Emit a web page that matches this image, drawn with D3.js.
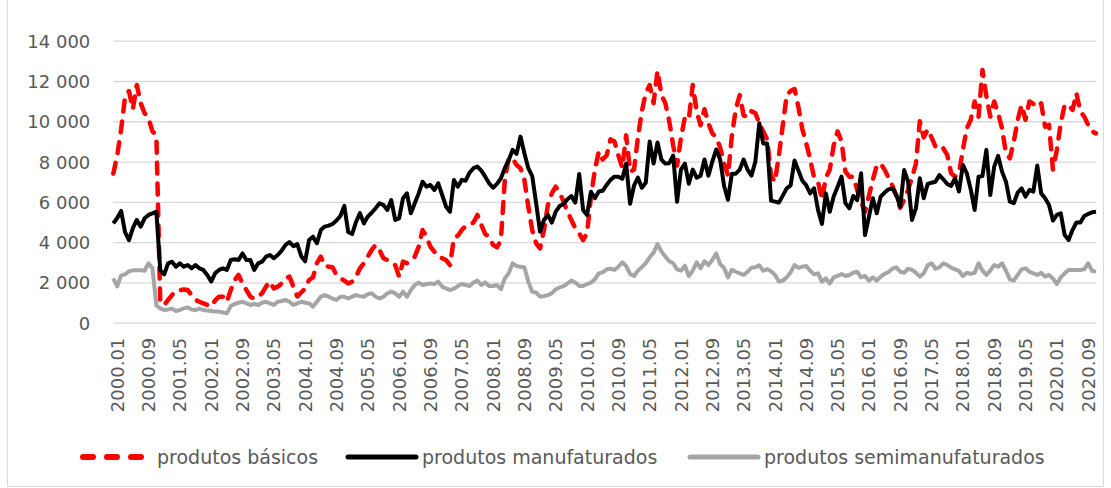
<!DOCTYPE html>
<html>
<head>
<meta charset="utf-8">
<script src="https://cdn.jsdelivr.net/npm/d3@7"></script>
<style>
  body { margin: 0; background: #fff; }
  svg { display: block; font-family: "DejaVu Sans", sans-serif; }
</style>
</head>
<body>
<svg id="chart" width="1111" height="488"></svg>
<script>
// monthly series, 2000.01 .. 2020.12 (one row = one year)
const basicos = [
  7400, 8300, 9600, 11200, 11500, 10600, 11800, 10900, 10400, 10150, 9500, 9300,
  1000, 880, 1130, 1370, 1580, 1620, 1650, 1620, 1370, 1130, 1040, 960,
  880, 800, 1100, 1290, 1290, 1040, 1620, 2120, 2370, 1950, 1620, 1290,
  1200, 1290, 1460, 1790, 2040, 1700, 1790, 1950, 2200, 2290, 1790, 1300,
  1500, 1700, 2120, 2250, 2950, 3280, 2810, 2780, 2750, 2370, 2200, 2090,
  1950, 2040, 2290, 2700, 2950, 3280, 3610, 3860, 3610, 3200, 3110, 2950,
  2860, 2290, 3030, 2950, 3110, 3280, 3770, 4600, 4270, 3770, 3530, 3280,
  3200, 3110, 2860, 4190, 4320, 4600, 4800, 4900, 4970, 5350, 4850, 4400,
  4270, 3860, 3740, 4100, 7090, 8160, 8160, 7830, 7670, 7090, 5760, 4600,
  3940, 3690, 4600, 5840, 6420, 6750, 6460, 6010, 5510, 5100, 4690, 4440,
  4100, 4440, 6260, 7580, 8500, 8100, 8300, 9100, 9000, 8300, 7700, 9300,
  7500, 7600, 9200, 10500, 11400, 11800, 10900, 12500, 11300, 10900, 10000, 8800,
  7800, 9200, 10200, 10100, 11800, 10500, 9800, 10600, 9900, 9400, 9200, 8700,
  7900, 7300, 9300, 10600, 11300, 10300, 10200, 10500, 10400, 9900, 9500, 9100,
  7300, 7000, 8300, 9800, 11300, 11500, 11600, 10700, 9600, 8900, 8100, 7200,
  7000, 6100, 7200, 7600, 8800, 9500, 9000, 7500, 7250, 7250, 6600, 6000,
  5500, 6300, 7100, 7800, 7900, 7600, 7200, 6800, 6300, 5700, 6100, 6600,
  7200, 7900, 10000, 9200, 9600, 9200, 8740, 8580, 8660, 8330, 7420, 7250,
  7420, 8580, 9650, 10070, 10980, 10230, 12550, 11230, 10230, 10980, 10400, 9650,
  8410, 8160, 8990, 10070, 10810, 10070, 10980, 10860, 10700, 10890, 9730, 9820,
  7600, 8580, 9900, 10810, 10810, 10560, 11390, 10480, 10230, 9820, 9490, 9400
];
const manufaturados = [
  4930, 5200, 5550, 4500, 4100, 4700, 5100, 4770, 5180, 5350, 5430, 5510,
  2600, 2400, 2950, 3030, 2780, 2950, 2780, 2860, 2700, 2860, 2700, 2620,
  2370, 2040, 2450, 2620, 2700, 2620, 3110, 3150, 3110, 3440, 3110, 3110,
  2620, 2950, 3030, 3280, 3360, 3200, 3360, 3580, 3860, 4000, 3800, 3900,
  3300, 3050, 4100, 4270, 3940, 4600, 4770, 4820, 4900, 5070, 5300, 5800,
  4500, 4400, 5000, 5440, 4930, 5270, 5460, 5680, 5930, 5840, 5600, 6090,
  5100, 5180, 6180, 6420, 5430, 5930, 6420, 7000, 6750, 6840, 6590, 6920,
  6340, 5760, 5510, 7090, 6750, 7090, 7050, 7450, 7670, 7750, 7550, 7250,
  6920, 6700, 6890, 7170, 7670, 8080, 8580, 8380, 9240, 8410, 7670, 7280,
  5930, 4520, 5100, 5350, 4970, 5510, 5790, 5890, 6130, 6290, 5960, 7380,
  5600, 5350, 6500, 6180, 6510, 6550, 6840, 7090, 7250, 7250, 7140, 7900,
  5900, 6800, 7200, 6700, 6950, 9000, 7900, 8950, 8100, 7900, 7920, 8300,
  6000, 7600, 7900, 6900, 7600, 7200, 7300, 8100, 7300, 8000, 8600, 8100,
  6800, 6100, 7400, 7400, 7600, 8100, 7600, 7300, 8000, 9900, 8900, 8900,
  6060, 6010, 5960, 6310, 6670, 6820, 8050, 7550, 7050, 6820, 6420, 6670,
  5600, 4900, 6420, 5510, 6260, 6750, 7250, 5930, 5680, 6290, 6090, 7420,
  4350, 5260, 6180, 5430, 6260, 6460, 6620, 6670, 6340, 5760, 7580, 7000,
  5100, 5680, 7170, 6180, 6890, 6950, 7000, 7330, 7120, 6890, 6790, 7170,
  6510, 7830, 7420, 6620, 5600, 7250, 7280, 8580, 6340, 7750, 8280, 7500,
  7000, 6010, 5930, 6460, 6670, 6260, 6590, 6510, 7800, 6420, 6180, 5840,
  5070, 5350, 5430, 4350, 4110, 4600, 4980, 4970, 5300, 5400, 5480, 5510
];
const semimanufaturados = [
  2200, 1800, 2350, 2400, 2550, 2600, 2600, 2600, 2580, 2950, 2700, 850,
  710, 630, 660, 700, 580, 630, 710, 760, 660, 630, 700, 630,
  600, 580, 550, 550, 510, 460, 830, 930, 990, 1040, 960, 880,
  930, 880, 990, 1040, 960, 880, 1040, 1080, 1130, 1040, 880, 960,
  1040, 990, 960, 800, 1040, 1290, 1370, 1290, 1200, 1130, 1290, 1290,
  1200, 1290, 1370, 1320, 1290, 1420, 1460, 1290, 1200, 1290, 1460, 1540,
  1460, 1290, 1540, 1290, 1620, 1870, 1990, 1870, 1920, 1950, 1920, 2040,
  1790, 1700, 1620, 1690, 1820, 1920, 1870, 1820, 1990, 2090, 1870, 2000,
  1820, 1820, 1870, 1660, 2200, 2450, 2950, 2810, 2780, 2750, 2040, 1540,
  1490, 1290, 1320, 1370, 1460, 1660, 1750, 1820, 1950, 2090, 1990, 1820,
  1820, 1920, 1990, 2150, 2450, 2500, 2650, 2680, 2620, 2780, 3000, 2810,
  2420, 2320, 2580, 2760, 2950, 3250, 3480, 3900, 3540, 3280, 3050, 2950,
  2650, 2580, 2830, 2320, 2580, 3000, 2700, 3050, 2860, 3110, 3440, 2910,
  2720, 2250, 2620, 2530, 2450, 2370, 2530, 2730, 2750, 2850, 2580, 2650,
  2550, 2370, 2040, 2090, 2250, 2500, 2860, 2720, 2780, 2810, 2580, 2400,
  2450, 2040, 2200, 1950, 2250, 2320, 2420, 2320, 2370, 2480, 2530, 2250,
  2320, 2090, 2250, 2090, 2290, 2420, 2520, 2680, 2750, 2530, 2480, 2680,
  2620, 2480, 2290, 2450, 2850, 2950, 2680, 2750, 2950, 2860, 2730, 2650,
  2570, 2320, 2480, 2420, 2480, 2950, 2580, 2370, 2580, 2860, 2780, 2950,
  2580, 2150, 2090, 2370, 2650, 2700, 2530, 2450, 2370, 2480, 2290, 2370,
  2200, 1920, 2250, 2450, 2620, 2620, 2620, 2620, 2650, 2950, 2580, 2530
];

const years = d3.range(2000, 2021);
const months = ["01", "02", "03", "04", "05", "06", "07", "08", "09", "10", "11", "12"];
const categories = years.flatMap(y => months.map(m => y + "." + m));
const xTickLabels = categories.filter((c, i) => i % 8 === 0);   // 2000.01, 2000.09, ...
const yTicks = [0, 2000, 4000, 6000, 8000, 10000, 12000, 14000];

const series = [
  { name: "produtos básicos", values: basicos, color: "#ff0000", width: 4.5, dash: "11,10" },
  { name: "produtos manufaturados", values: manufaturados, color: "#000000", width: 4, dash: null },
  { name: "produtos semimanufaturados", values: semimanufaturados, color: "#a5a5a5", width: 4, dash: null }
];

const svg = d3.select("#chart");
const margin = { left: 113.3, right: 1096, top: 40.7, bottom: 322.7 };

// outer frame of the chart area
svg.append("path")
  .attr("d", "M7.5,0V486.5H1103.5V0")
  .attr("fill", "none").attr("stroke", "#d9d9d9").attr("stroke-width", 1);

const x = d3.scalePoint().domain(categories).range([margin.left, margin.right]);
const y = d3.scaleLinear().domain([0, 14000]).range([margin.bottom, margin.top]);

const fmt = d3.formatLocale({ decimal: ",", thousands: " ", grouping: [3], currency: ["", ""] }).format(",d");

// gridlines + y labels
const yAxis = d3.axisLeft(y).tickValues(yTicks).tickFormat(fmt)
  .tickSizeInner(-(margin.right - margin.left)).tickSizeOuter(0).tickPadding(23);
const gy = svg.append("g").attr("transform", `translate(${margin.left},0)`).call(yAxis);
gy.select(".domain").remove();
gy.selectAll(".tick line").attr("stroke", "#d9d9d9").attr("stroke-width", 1.3);
gy.selectAll(".tick text").attr("fill", "#595959").attr("font-size", 18)
  .attr("font-family", "DejaVu Sans").attr("dy", "0.36em");

// x labels, rotated
const xAxis = d3.axisBottom(x).tickValues(xTickLabels).tickSize(0).tickPadding(0);
const gx = svg.append("g").attr("transform", `translate(0,${margin.bottom})`).call(xAxis);
gx.select(".domain").remove();
gx.selectAll(".tick text")
  .attr("fill", "#595959").attr("font-size", 18).attr("font-family", "DejaVu Sans")
  .attr("text-anchor", "end")
  .attr("transform", "translate(3.5,15) rotate(-90)")
  .attr("x", 0).attr("y", 0).attr("dy", "0.36em");

// lines
const line = d3.line().x((d, i) => x(categories[i])).y(d => y(d));
series.forEach(s => {
  svg.append("path")
    .datum(s.values)
    .attr("d", line)
    .attr("fill", "none")
    .attr("stroke", s.color)
    .attr("stroke-width", s.width)
    .attr("stroke-linejoin", "round")
    .attr("stroke-linecap", s.dash ? "round" : "butt")
    .attr("stroke-dasharray", s.dash);
});

// legend
const legendX = [80, 348, 690];
const legendY = 457;
const lg = svg.append("g");
series.forEach((s, i) => {
  const g = lg.append("g").attr("transform", `translate(${legendX[i]},${legendY})`);
  g.append("line").attr("x1", s.dash ? 3 : 0).attr("x2", s.dash ? 63 : 68).attr("y1", 0).attr("y2", 0)
    .attr("stroke", s.color).attr("stroke-width", s.dash ? 6 : 5)
    .attr("stroke-linecap", "round")
    .attr("stroke-dasharray", s.dash ? "10,14" : null);
  g.append("text").attr("x", s.dash ? 77 : 74).attr("y", 0).attr("dy", "0.36em")
    .attr("fill", "#595959").attr("font-size", 19).text(s.name);
});
</script>
</body>
</html>
